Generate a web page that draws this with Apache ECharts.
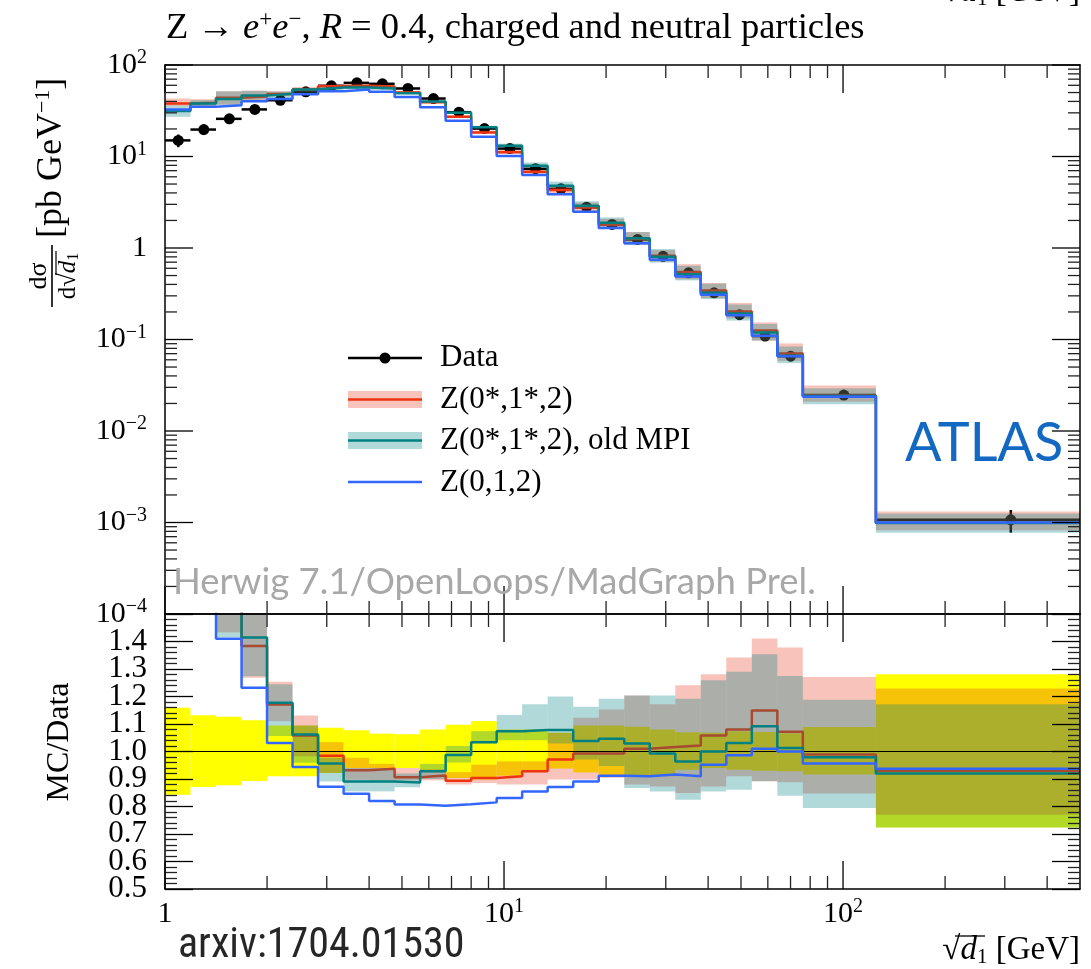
<!DOCTYPE html>
<html>
<head>
<meta charset="utf-8">
<script src="https://cdn.jsdelivr.net/npm/echarts@6/dist/echarts.min.js"></script>
<style>
  html, body { margin: 0; padding: 0; background: #fff; }
  #chart { width: 1091px; height: 969px; }
</style>
</head>
<body>
<div id="chart"></div>
<script>
// sqrt(d1) bin edges in GeV (27 bins)
const binEdges = [1, 1.189, 1.414, 1.682, 2, 2.378, 2.828, 3.364, 4, 4.757, 5.657, 6.727, 8,
  9.514, 11.31, 13.45, 16, 19.03, 22.63, 26.91, 32, 38.05, 45.25, 53.82, 64, 76.11, 125, 500];

// Measured cross section dσ/d√d1 [pb/GeV]
const dataXsec = [15.0, 19.7, 25.8, 32.7, 41.2, 50.9, 59.3, 63.8, 62.3, 55.4, 43.0, 30.5, 20.2,
  12.2, 7.35, 4.43, 2.79, 1.81, 1.24, 0.81, 0.536, 0.324, 0.187, 0.109, 0.0657, 0.0247, 0.00107];
// Relative data uncertainty (lower / upper edge, as fraction of the measured value)
const dataRelLo = [0.843, 0.871, 0.877, 0.893, 0.910, 0.910, 0.922, 0.940, 0.940, 0.940, 0.928, 0.904, 0.898,
  0.912, 0.932, 0.938, 0.924, 0.912, 0.910, 0.910, 0.934, 0.940, 0.934, 0.930, 0.928, 0.916, 0.724];
const dataRelHi = [1.159, 1.132, 1.126, 1.114, 1.095, 1.095, 1.086, 1.077, 1.065, 1.063, 1.080, 1.097, 1.111,
  1.080, 1.080, 1.068, 1.095, 1.095, 1.090, 1.080, 1.070, 1.068, 1.074, 1.071, 1.066, 1.089, 1.281];

// MC / Data for the three predictions
const ratioRed = [2.53, 1.96, 1.70, 1.384, 1.171, 1.058, 0.985, 0.932, 0.937, 0.906, 0.913, 0.894, 0.904,
  0.910, 0.928, 0.971, 0.993, 0.993, 1.010, 1.016, 1.022, 1.058, 1.080, 1.149, 1.072, 0.989, 0.930];
const ratioTeal = [2.09, 1.93, 1.65, 1.415, 1.177, 1.062, 0.956, 0.891, 0.891, 0.887, 0.928, 0.987, 1.034,
  1.074, 1.078, 1.078, 1.038, 1.046, 1.029, 0.993, 0.964, 1.000, 1.031, 1.092, 1.013, 0.979, 0.920];
const ratioBlue = [2.18, 1.77, 1.41, 1.232, 1.031, 0.944, 0.872, 0.846, 0.820, 0.807, 0.803, 0.808, 0.815,
  0.831, 0.855, 0.871, 0.891, 0.912, 0.910, 0.916, 0.910, 0.952, 0.986, 1.010, 1.000, 0.956, 0.937];

// MC uncertainty bands, as ratio to data
const redLo = [2.37, 1.80, 1.433, 1.268, 1.110, 0.983, 0.922, 0.897, 0.895, 0.895, 0.895, 0.880, 0.885,
  0.880, 0.880, 0.898, 0.898, 0.905, 0.880, 0.873, 0.849, 0.873, 0.910, 0.892, 0.888, 0.847, 0.770];
const redHi = [2.87, 2.15, 2.00, 1.600, 1.254, 1.131, 1.034, 0.977, 0.955, 0.940, 0.935, 0.925, 0.952,
  0.964, 0.964, 1.068, 1.123, 1.153, 1.204, 1.172, 1.241, 1.281, 1.342, 1.411, 1.378, 1.271, 1.229];
const tealLo = [1.81, 1.75, 1.415, 1.274, 1.056, 0.959, 0.891, 0.855, 0.855, 0.870, 0.900, 0.960, 1.030,
  1.041, 1.041, 1.029, 0.971, 0.947, 0.867, 0.855, 0.825, 0.855, 0.861, 0.892, 0.839, 0.795, 0.724];
const tealHi = [2.40, 2.10, 2.00, 1.600, 1.245, 1.095, 0.977, 0.940, 0.940, 0.920, 0.955, 1.020, 1.074,
  1.133, 1.172, 1.200, 1.163, 1.192, 1.204, 1.204, 1.192, 1.259, 1.290, 1.354, 1.275, 1.188, 1.172];

// Axis ticks and labels
const xMajorTicks = [1, 10, 100];
const tickMultipliers = [2, 3, 4, 5, 6, 7, 8, 9];
const yMajorTicks = [1e-4, 1e-3, 1e-2, 1e-1, 1, 10, 100];
const ratioTickLabels = ['0.5', '0.6', '0.7', '0.8', '0.9', '1.0', '1.1', '1.2', '1.3', '1.4'];

const legendNames = ['Data', 'Z(0*,1*,2)', 'Z(0*,1*,2), old MPI', 'Z(0,1,2)'];

const SERIF = '"Liberation Serif", "DejaVu Serif", serif';
const RED = '#ee3311', TEAL = '#008080', BLUE = '#3366ff';
const RED_BAND = 'rgba(228,55,28,0.30)', TEAL_BAND = 'rgba(0,128,128,0.30)';
const X_MIN = 1, X_MAX = 500;

const xTickVals = [];
xMajorTicks.forEach(d => {
  xTickVals.push([d, 1]);
  tickMultipliers.forEach(m => { if (m * d < X_MAX) xTickVals.push([m * d, 0]); });
});
const yTickVals = [];
yMajorTicks.forEach((d, i) => {
  yTickVals.push([d, 1]);
  if (i < yMajorTicks.length - 1) tickMultipliers.forEach(m => yTickVals.push([m * d, 0]));
});

const ones = dataXsec.map(() => 1);

function stepPoints(values, scale) {
  const pts = values.map((v, i) => [binEdges[i], v * scale[i]]);
  pts.push([binEdges[binEdges.length - 1], values[values.length - 1] * scale[values.length - 1]]);
  return pts;
}

function clipTo(rect, cs) {
  return echarts.graphic.clipRectByRect(rect, { x: cs.x, y: cs.y, width: cs.width, height: cs.height });
}

function bandSeries(ax, lo, hi, scale, fill, z) {
  return {
    type: 'custom', xAxisIndex: ax, yAxisIndex: ax, z, silent: true, animation: false,
    data: lo.map((l, i) => [binEdges[i], l * scale[i], binEdges[i + 1], hi[i] * scale[i]]),
    renderItem(params, api) {
      const p0 = api.coord([api.value(0), api.value(3)]);
      const p1 = api.coord([api.value(2), api.value(1)]);
      const r = clipTo({ x: p0[0], y: p0[1], width: p1[0] - p0[0], height: p1[1] - p0[1] }, params.coordSys);
      return r ? { type: 'rect', shape: r, style: { fill } } : null;
    }
  };
}

function stepLine(ax, values, scale, color, z) {
  return {
    type: 'line', xAxisIndex: ax, yAxisIndex: ax, z, step: 'end', silent: true,
    symbol: 'none', clip: true, animation: false,
    lineStyle: { color, width: 2.5 },
    data: stepPoints(values, scale)
  };
}

function xTickSeries(ax, yRef) {
  return {
    type: 'custom', xAxisIndex: ax, yAxisIndex: ax, z: 30, silent: true,
    data: xTickVals.map(t => [t[0], yRef, t[1]]),
    renderItem(params, api) {
      const cs = params.coordSys;
      const px = api.coord([api.value(0), api.value(1)])[0];
      const major = api.value(2) === 1;
      const len = major ? 28 : 13;
      const st = { stroke: major ? '#000' : '#222', lineWidth: 1.3 };
      return { type: 'group', children: [
        { type: 'line', shape: { x1: px, y1: cs.y, x2: px, y2: cs.y + len }, style: st },
        { type: 'line', shape: { x1: px, y1: cs.y + cs.height, x2: px, y2: cs.y + cs.height - len }, style: st }
      ] };
    }
  };
}

function yTickSeries(ax) {
  return {
    type: 'custom', xAxisIndex: ax, yAxisIndex: ax, z: 30, silent: true,
    data: yTickVals.map(t => [X_MIN, t[0], t[1]]),
    renderItem(params, api) {
      const cs = params.coordSys;
      const py = api.coord([api.value(0), api.value(1)])[1];
      const major = api.value(2) === 1;
      const len = major ? 28 : 12;
      const st = { stroke: major ? '#000' : '#222', lineWidth: 1.3 };
      return { type: 'group', children: [
        { type: 'line', shape: { x1: cs.x, y1: py, x2: cs.x + len, y2: py }, style: st },
        { type: 'line', shape: { x1: cs.x + cs.width, y1: py, x2: cs.x + cs.width - len, y2: py }, style: st }
      ] };
    }
  };
}

// ratio-axis tick labels, placed through the ratio axis scale
const ratioLabelSeries = {
  type: 'custom', xAxisIndex: 2, yAxisIndex: 2, z: 30, silent: true,
  data: ratioTickLabels.map(s => [X_MIN, parseFloat(s)]),
  renderItem(params, api) {
    const cs = params.coordSys;
    const py = api.coord([api.value(0), api.value(1)])[1];
    return {
      type: 'text', x: cs.x - 18, y: py,
      style: { text: ratioTickLabels[params.dataIndex], font: '31px ' + SERIF, fill: '#000',
               align: 'right', verticalAlign: 'middle' }
    };
  }
};

const labelRich = {
  b: { fontFamily: SERIF, fontSize: 30, color: '#000', lineHeight: 34 },
  s: { fontFamily: SERIF, fontSize: 20, color: '#000', lineHeight: 18, verticalAlign: 'top' }
};

function powLabel(v) {
  const e = Math.log10(v);
  const r = Math.round(e);
  if (Math.abs(e - r) > 1e-6) return '';
  if (r === 0) return '{b|1}';
  return '{b|10}{s|' + (r < 0 ? '−' : '') + Math.abs(r) + '}';
}

const axisLineStyle = { show: true, onZero: false, lineStyle: { color: '#000', width: 1.5 } };

function logXAxis(gridIndex, position, labels) {
  return {
    type: 'log', logBase: 10, gridIndex, position, min: X_MIN, max: X_MAX, z: 10,
    axisLine: axisLineStyle, axisTick: { show: false }, splitLine: { show: false },
    axisLabel: labels ? { show: true, margin: 8, formatter: powLabel, rich: labelRich,
                          hideOverlap: false, showMinLabel: true }
                      : { show: false }
  };
}

function ratioYAxis(position) {
  return {
    type: 'value', gridIndex: 1, position, min: 0.5, max: 1.5, interval: 0.1, z: 10,
    axisLine: axisLineStyle,
    axisTick: { show: true, inside: true, length: 28, lineStyle: { color: '#000', width: 1.3 } },
    minorTick: { show: true, splitNumber: 5, length: 12, lineStyle: { color: '#222', width: 1.3 } },
    splitLine: { show: false },
    axisLabel: { show: false }
  };
}

const topY = {
  type: 'log', logBase: 10, gridIndex: 0, min: 1e-4, max: 100, z: 10,
  axisLine: axisLineStyle, axisTick: { show: false }, splitLine: { show: false }
};

const xTitleRich = {
  r: { fontFamily: SERIF, fontSize: 33, fill: '#000' },
  i: { fontFamily: SERIF, fontSize: 33, fontStyle: 'italic', fill: '#000' },
  sub: { fontFamily: SERIF, fontSize: 21, fill: '#000', padding: [14, 0, 0, 0] },
  n: { fontFamily: SERIF, fontSize: 33, fill: '#000' }
};

const option = {
  animation: false,
  backgroundColor: '#fff',
  grid: [
    { left: 165, top: 65, width: 915, height: 549, outerBoundsMode: 'none' },
    { left: 165, top: 614, width: 915, height: 275, outerBoundsMode: 'none' }
  ],
  xAxis: [
    logXAxis(0, 'bottom', false),
    logXAxis(0, 'top', false),
    logXAxis(1, 'bottom', true),
    logXAxis(1, 'top', false)
  ],
  yAxis: [
    Object.assign({}, topY, { position: 'left',
      axisLabel: { show: true, margin: 18, formatter: powLabel, rich: labelRich, hideOverlap: false,
                   showMinLabel: true, showMaxLabel: true } }),
    Object.assign({}, topY, { position: 'right', axisLabel: { show: false } }),
    ratioYAxis('left'),
    ratioYAxis('right')
  ],
  series: [
    // upper panel: data, then MC bands and histograms on top
    {
      type: 'custom', name: legendNames[0], xAxisIndex: 0, yAxisIndex: 0, z: 2, silent: true,
      data: dataXsec.map((v, i) => [binEdges[i], v, binEdges[i + 1], v * dataRelLo[i], v * dataRelHi[i]]),
      renderItem(params, api) {
        const xl = api.value(0), v = api.value(1), xh = api.value(2);
        const xc = (xl + xh) / 2;
        const a = api.coord([xl, v]), b = api.coord([xh, v]), c = api.coord([xc, v]);
        const lo = api.coord([xc, api.value(3)]), hi = api.coord([xc, api.value(4)]);
        const st = { stroke: '#000', lineWidth: 2.5 };
        return { type: 'group', children: [
          { type: 'line', shape: { x1: a[0], y1: a[1], x2: Math.min(b[0], params.coordSys.x + params.coordSys.width), y2: b[1] }, style: st },
          { type: 'line', shape: { x1: lo[0], y1: lo[1], x2: hi[0], y2: hi[1] }, style: st },
          { type: 'circle', shape: { cx: c[0], cy: c[1], r: 5.5 }, style: { fill: '#000' } }
        ] };
      }
    },
    bandSeries(0, redLo, redHi, dataXsec, RED_BAND, 3),
    stepLine(0, ratioRed, dataXsec, RED, 4),
    bandSeries(0, tealLo, tealHi, dataXsec, TEAL_BAND, 5),
    stepLine(0, ratioTeal, dataXsec, TEAL, 6),
    stepLine(0, ratioBlue, dataXsec, BLUE, 7),

    // ratio panel
    bandSeries(2, dataRelLo, dataRelHi, ones, '#ffff00', 2),
    bandSeries(2, redLo, redHi, ones, RED_BAND, 3),
    stepLine(2, ratioRed, ones, RED, 4),
    bandSeries(2, tealLo, tealHi, ones, TEAL_BAND, 5),
    {
      type: 'line', xAxisIndex: 2, yAxisIndex: 2, z: 6, silent: true, symbol: 'none',
      lineStyle: { color: '#000', width: 1 }, data: [[X_MIN, 1], [X_MAX, 1]]
    },
    stepLine(2, ratioTeal, ones, TEAL, 7),
    stepLine(2, ratioBlue, ones, BLUE, 8),

    // ticks and ratio labels
    xTickSeries(0, 1),
    yTickSeries(0),
    xTickSeries(2, 1),
    ratioLabelSeries
  ],
  graphic: [
    // title
    {
      type: 'text', left: 166, top: 8, z: 50,
      style: {
        text: '{n|Z → }{i|e}{s|+}{i|e}{s|−}{n|, }{i|R}{n| = 0.4, charged and neutral particles}',
        rich: {
          n: { fontFamily: SERIF, fontSize: 36.5, lineHeight: 40, fill: '#000' },
          i: { fontFamily: SERIF, fontSize: 36.5, fontStyle: 'italic', lineHeight: 40, fill: '#000' },
          s: { fontFamily: SERIF, fontSize: 23, lineHeight: 26, verticalAlign: 'top', fill: '#000' }
        }
      }
    },
    // clipped axis title of the panel above
    {
      type: 'text', x: 1080, y: -8, z: 50,
      style: { text: '{r|√}{i|d}{sub|1}{n| [GeV]}', align: 'right', verticalAlign: 'middle', rich: xTitleRich }
    },
    // y-axis title of the upper panel
    {
      type: 'group', x: 52, y: 276, rotation: Math.PI / 2, z: 50,
      children: [
        { type: 'line', shape: { x1: -31, y1: 0, x2: 31, y2: 0 }, style: { stroke: '#000', lineWidth: 1.6 } },
        { type: 'text', x: 0, y: -13, style: { text: 'dσ', font: '26px ' + SERIF, fill: '#000', align: 'center', verticalAlign: 'middle' } },
        {
          type: 'text', x: 0, y: 16,
          style: {
            text: '{n|d√}{i|d}{sub|1}', align: 'center', verticalAlign: 'middle',
            rich: {
              n: { fontFamily: SERIF, fontSize: 25, fill: '#000' },
              i: { fontFamily: SERIF, fontSize: 25, fontStyle: 'italic', fill: '#000' },
              sub: { fontFamily: SERIF, fontSize: 16, fill: '#000', padding: [11, 0, 0, 0] }
            }
          }
        },
        { type: 'line', shape: { x1: 1, y1: 4, x2: 25, y2: 4 }, style: { stroke: '#000', lineWidth: 1.2 } },
        {
          type: 'text', x: 38, y: 0,
          style: {
            text: '{n|[pb GeV}{s|−1}{n|]}', align: 'left', verticalAlign: 'middle',
            rich: {
              n: { fontFamily: SERIF, fontSize: 36, lineHeight: 40, fill: '#000' },
              s: { fontFamily: SERIF, fontSize: 22, lineHeight: 22, verticalAlign: 'top', fill: '#000' }
            }
          }
        }
      ]
    },
    // y-axis title of the ratio panel
    {
      type: 'text', x: 60, y: 742, rotation: Math.PI / 2, z: 50,
      style: { text: 'MC/Data', font: '32px ' + SERIF, fill: '#000', align: 'center', verticalAlign: 'middle' }
    },
    // x-axis title
    {
      type: 'text', x: 1080, y: 950, z: 50,
      style: { text: '{r|√}{i|d}{sub|1}{n| [GeV]}', align: 'right', verticalAlign: 'middle', rich: xTitleRich }
    },
    { type: 'line', z: 50, shape: { x1: 955, y1: 936, x2: 985, y2: 936 }, style: { stroke: '#000', lineWidth: 1.3 } },
    // labels
    {
      type: 'text', x: 905, y: 444, z: 50,
      style: { text: 'ATLAS', font: '54px Lato, "Open Sans", sans-serif', fill: '#1368c2', verticalAlign: 'middle' }
    },
    {
      type: 'text', x: 173, y: 582, z: 50,
      style: { text: 'Herwig 7.1/OpenLoops/MadGraph Prel.', font: '36.5px Lato, "Open Sans", sans-serif', fill: '#a8a8a8', verticalAlign: 'middle' }
    },
    {
      type: 'text', x: 178, y: 946, z: 50,
      style: {
        text: 'arxiv:1704.01530', font: '42px "Liberation Sans Narrow", "Roboto Condensed", Lato, sans-serif',
        fill: '#262626', verticalAlign: 'middle',
        shadowColor: 'rgba(0,0,0,0.35)', shadowBlur: 5
      }
    },
    // legend
    { type: 'line', z: 50, shape: { x1: 348, y1: 358, x2: 422, y2: 358 }, style: { stroke: '#000', lineWidth: 2.5 } },
    { type: 'circle', z: 50, shape: { cx: 385, cy: 358, r: 5.5 }, style: { fill: '#000' } },
    { type: 'rect', z: 50, shape: { x: 348, y: 391, width: 74, height: 17 }, style: { fill: RED_BAND } },
    { type: 'line', z: 51, shape: { x1: 348, y1: 399.5, x2: 422, y2: 399.5 }, style: { stroke: RED, lineWidth: 2.5 } },
    { type: 'rect', z: 50, shape: { x: 348, y: 432, width: 74, height: 17 }, style: { fill: TEAL_BAND } },
    { type: 'line', z: 51, shape: { x1: 348, y1: 440.5, x2: 422, y2: 440.5 }, style: { stroke: TEAL, lineWidth: 2.5 } },
    { type: 'line', z: 50, shape: { x1: 348, y1: 482, x2: 422, y2: 482 }, style: { stroke: BLUE, lineWidth: 2.5 } },
    { type: 'text', z: 50, x: 440, y: 358, style: { text: legendNames[0], font: '31px ' + SERIF, fill: '#000', verticalAlign: 'middle' } },
    { type: 'text', z: 50, x: 440, y: 400, style: { text: legendNames[1], font: '31px ' + SERIF, fill: '#000', verticalAlign: 'middle' } },
    { type: 'text', z: 50, x: 440, y: 441, style: { text: legendNames[2], font: '31px ' + SERIF, fill: '#000', verticalAlign: 'middle' } },
    { type: 'text', z: 50, x: 440, y: 483, style: { text: legendNames[3], font: '31px ' + SERIF, fill: '#000', verticalAlign: 'middle' } }
  ]
};

const chart = echarts.init(document.getElementById('chart'));
chart.setOption(option);
</script>
</body>
</html>
